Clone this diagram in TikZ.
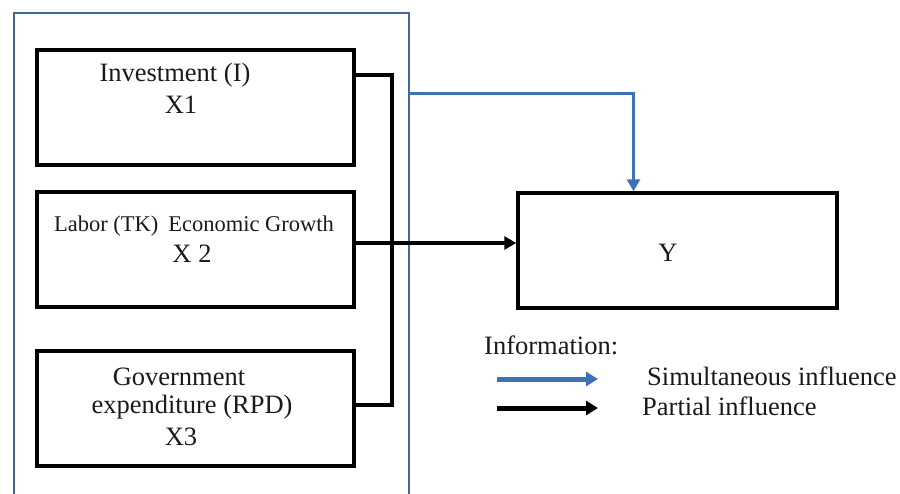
\documentclass[tikz,border=0pt]{standalone}
\usepackage{fontspec}
\setmainfont{Liberation Serif}
\usetikzlibrary{arrows.meta,positioning}
\definecolor{Frame}{HTML}{41689B}
\definecolor{Simul}{HTML}{3F72B5}
\definecolor{Ink}{HTML}{1A1A1A}

\begin{document}
\begin{tikzpicture}[x=1pt,y=-1pt,
    varbox/.style={draw=black,line width=3.5pt,minimum width=317pt,minimum height=115pt,inner sep=0pt},
    lbl/.style={text=Ink,font=\fontsize{26.5}{28}\selectfont,inner sep=0pt},
    small/.style={text=Ink,font=\fontsize{22.5}{24}\selectfont,inner sep=0pt},
    partial/.style={line width=3.5pt,-{Triangle[length=12pt,width=13pt]}},
    simul/.style={Simul,line width=3pt,-{Triangle[length=12pt,width=13pt]}},
    legend/.style={line width=5pt,-{Triangle[length=12pt,width=14pt]}}]
  \useasboundingbox (0,0) rectangle (900,493);

  % frame round the independent variables
  \draw[Frame,line width=2.6pt] (14,496) -- (14,13) -- (409,13) -- (409,496);

  \node[varbox] (inv) at (195.5,107.5) {};
  \node[varbox] (lab) at (195.5,249.5) {};
  \node[varbox] (gov) at (195.5,408.5) {};
  \node[draw=black,line width=3.5pt,minimum width=319pt,minimum height=115pt] (yout) at (677.5,250.5) {};

  \node[lbl] (invT) at (175,75) {Investment (I)};
  \node[lbl] (invX) at (181,105) {X1};
  \node[small] (labT) at (194,226) {Labor (TK)\hspace{10pt}Economic Growth};
  \node[lbl] (labX) at (192,254) {X 2};
  \node[lbl] (govT) at (179,377) {Government};
  \node[lbl] (govE) at (192,407) {expenditure (RPD)};
  \node[lbl] (govX) at (181,437) {X3};
  \node[lbl] (yT) at (668,253) {Y};

  % partial influence
  \coordinate (busTop) at (392,75);
  \coordinate (busBot) at (392,405);
  \draw[line width=3.5pt] ([yshift=32.5pt]inv.east) -- (busTop) -- (busBot) -- ([yshift=3.5pt]gov.east);
  \draw[partial] ([yshift=6.5pt]lab.east) -- ([yshift=6.5pt]lab.east -| yout.west);

  % simultaneous influence
  \coordinate (simStart) at (409,93);
  \draw[simul] (simStart) -| ([xshift=-44pt]yout.north);

  % legend
  \node[lbl,anchor=west] (info) at (484,345) {Information:};
  \coordinate (lgSa) at (497,379);
  \coordinate (lgSb) at (598,379);
  \coordinate (lgPa) at (497,408);
  \coordinate (lgPb) at (598,408);
  \draw[legend,Simul] (lgSa) -- (lgSb);
  \draw[legend] (lgPa) -- (lgPb);
  \node[lbl,anchor=west] (simT) at (647,376) {Simultaneous influence};
  \node[lbl,anchor=west] (parT) at (642,406) {Partial influence};
\end{tikzpicture}
\end{document}
